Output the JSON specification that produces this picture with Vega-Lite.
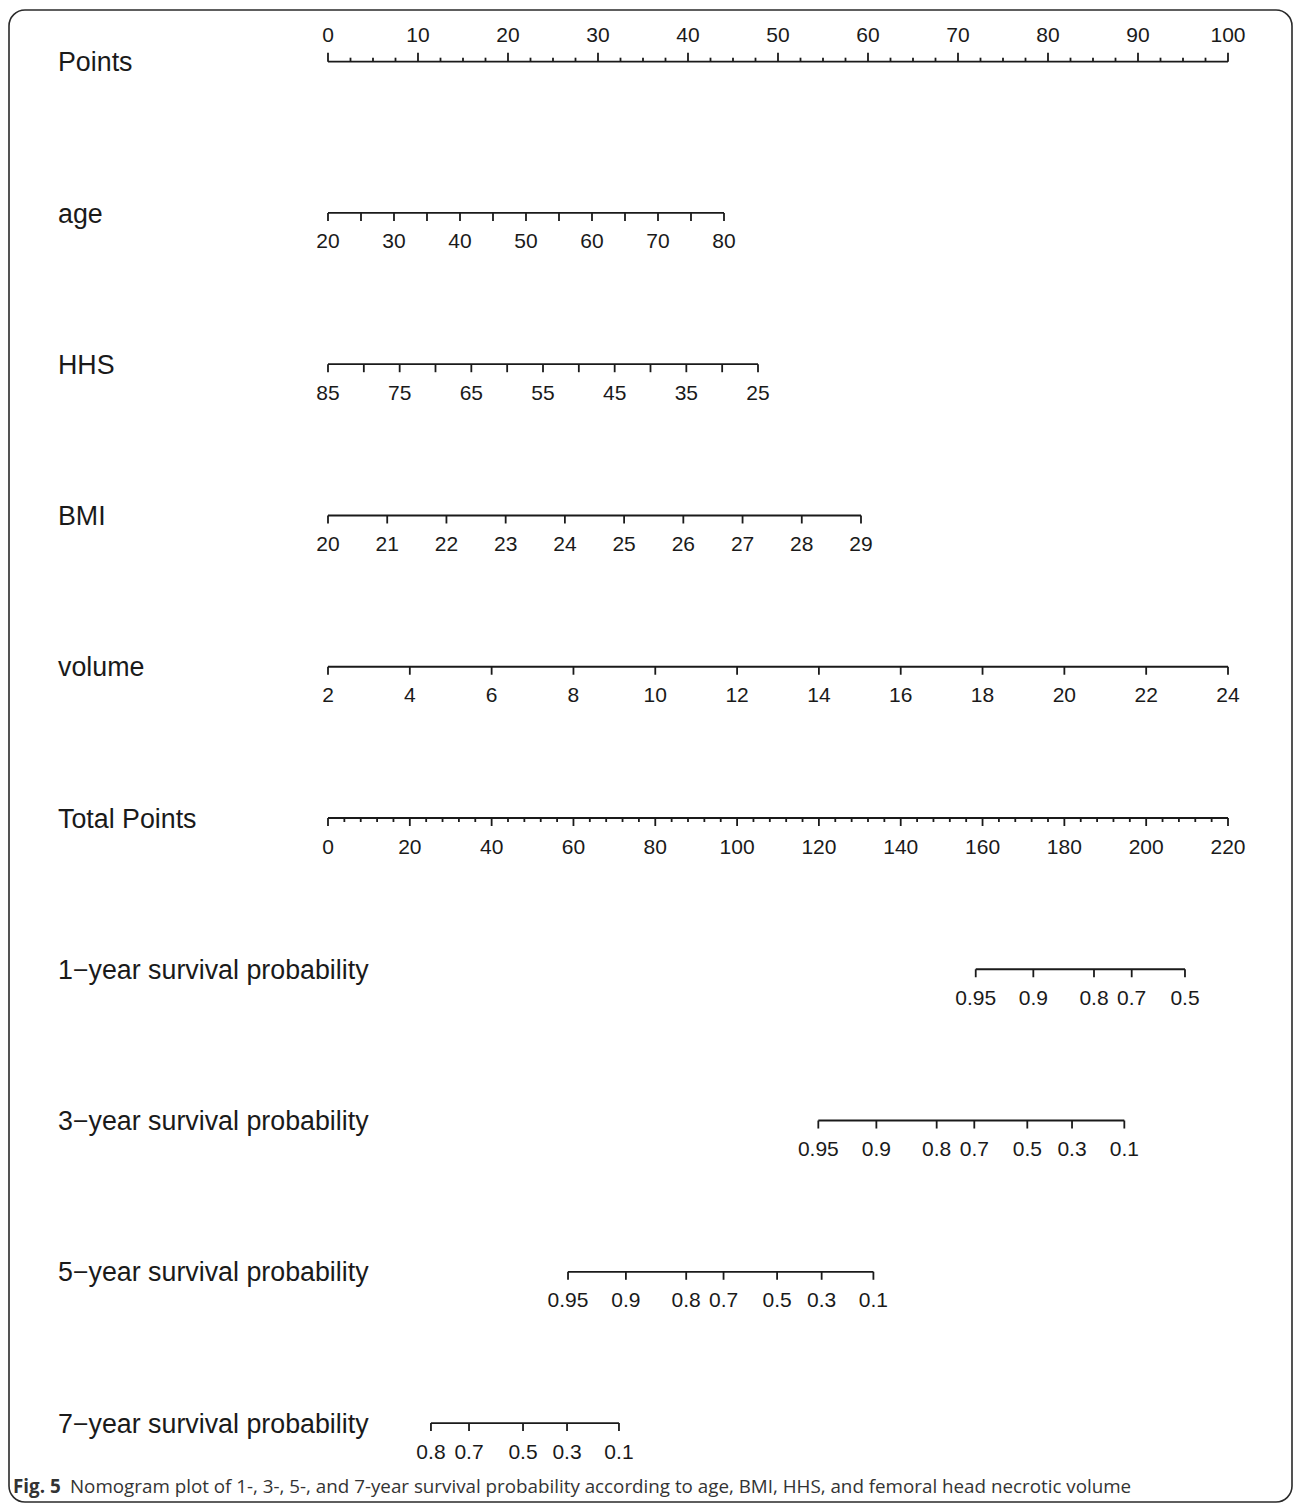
{
  "$schema": "https://vega.github.io/schema/vega-lite/v6.json",
  "width": 1295,
  "height": 1504,
  "autosize": {"type": "fit", "contains": "padding"},
  "padding": {"left": 9, "top": 10, "right": 3, "bottom": 2},
  "background": "white",
  "config": {
    "view": {"stroke": "#2a2a2a", "strokeWidth": 1.6, "cornerRadius": 16},
    "text": {"font": "Liberation Sans", "color": "#1a1a1a"}
  },
  "datasets": {
    "rows": [
      {"row": 0, "label": "Points", "start": 0, "end": 100},
      {"row": 1, "label": "age", "start": 0, "end": 44},
      {"row": 2, "label": "HHS", "start": 0, "end": 47.778},
      {"row": 3, "label": "BMI", "start": 0, "end": 59.222},
      {"row": 4, "label": "volume", "start": 0, "end": 100},
      {"row": 5, "label": "Total Points", "start": 0, "end": 100},
      {"row": 6, "label": "1−year survival probability", "start": 71.97, "end": 95.22},
      {"row": 7, "label": "3−year survival probability", "start": 54.48, "end": 88.48},
      {"row": 8, "label": "5−year survival probability", "start": 26.67, "end": 60.6},
      {"row": 9, "label": "7−year survival probability", "start": 11.44, "end": 32.33}
    ],
    "ticks": [
      {"row": 0, "pos": 0, "label": "0", "type": "long"},
      {"row": 0, "pos": 2.5, "label": "", "type": "short"},
      {"row": 0, "pos": 5, "label": "", "type": "short"},
      {"row": 0, "pos": 7.5, "label": "", "type": "short"},
      {"row": 0, "pos": 10, "label": "10", "type": "long"},
      {"row": 0, "pos": 12.5, "label": "", "type": "short"},
      {"row": 0, "pos": 15, "label": "", "type": "short"},
      {"row": 0, "pos": 17.5, "label": "", "type": "short"},
      {"row": 0, "pos": 20, "label": "20", "type": "long"},
      {"row": 0, "pos": 22.5, "label": "", "type": "short"},
      {"row": 0, "pos": 25, "label": "", "type": "short"},
      {"row": 0, "pos": 27.5, "label": "", "type": "short"},
      {"row": 0, "pos": 30, "label": "30", "type": "long"},
      {"row": 0, "pos": 32.5, "label": "", "type": "short"},
      {"row": 0, "pos": 35, "label": "", "type": "short"},
      {"row": 0, "pos": 37.5, "label": "", "type": "short"},
      {"row": 0, "pos": 40, "label": "40", "type": "long"},
      {"row": 0, "pos": 42.5, "label": "", "type": "short"},
      {"row": 0, "pos": 45, "label": "", "type": "short"},
      {"row": 0, "pos": 47.5, "label": "", "type": "short"},
      {"row": 0, "pos": 50, "label": "50", "type": "long"},
      {"row": 0, "pos": 52.5, "label": "", "type": "short"},
      {"row": 0, "pos": 55, "label": "", "type": "short"},
      {"row": 0, "pos": 57.5, "label": "", "type": "short"},
      {"row": 0, "pos": 60, "label": "60", "type": "long"},
      {"row": 0, "pos": 62.5, "label": "", "type": "short"},
      {"row": 0, "pos": 65, "label": "", "type": "short"},
      {"row": 0, "pos": 67.5, "label": "", "type": "short"},
      {"row": 0, "pos": 70, "label": "70", "type": "long"},
      {"row": 0, "pos": 72.5, "label": "", "type": "short"},
      {"row": 0, "pos": 75, "label": "", "type": "short"},
      {"row": 0, "pos": 77.5, "label": "", "type": "short"},
      {"row": 0, "pos": 80, "label": "80", "type": "long"},
      {"row": 0, "pos": 82.5, "label": "", "type": "short"},
      {"row": 0, "pos": 85, "label": "", "type": "short"},
      {"row": 0, "pos": 87.5, "label": "", "type": "short"},
      {"row": 0, "pos": 90, "label": "90", "type": "long"},
      {"row": 0, "pos": 92.5, "label": "", "type": "short"},
      {"row": 0, "pos": 95, "label": "", "type": "short"},
      {"row": 0, "pos": 97.5, "label": "", "type": "short"},
      {"row": 0, "pos": 100, "label": "100", "type": "long"},

      {"row": 1, "pos": 0, "label": "20", "type": "long"},
      {"row": 1, "pos": 3.667, "label": "", "type": "long"},
      {"row": 1, "pos": 7.333, "label": "30", "type": "long"},
      {"row": 1, "pos": 11, "label": "", "type": "long"},
      {"row": 1, "pos": 14.667, "label": "40", "type": "long"},
      {"row": 1, "pos": 18.333, "label": "", "type": "long"},
      {"row": 1, "pos": 22, "label": "50", "type": "long"},
      {"row": 1, "pos": 25.667, "label": "", "type": "long"},
      {"row": 1, "pos": 29.333, "label": "60", "type": "long"},
      {"row": 1, "pos": 33, "label": "", "type": "long"},
      {"row": 1, "pos": 36.667, "label": "70", "type": "long"},
      {"row": 1, "pos": 40.333, "label": "", "type": "long"},
      {"row": 1, "pos": 44, "label": "80", "type": "long"},

      {"row": 2, "pos": 0, "label": "85", "type": "long"},
      {"row": 2, "pos": 3.981, "label": "", "type": "long"},
      {"row": 2, "pos": 7.963, "label": "75", "type": "long"},
      {"row": 2, "pos": 11.944, "label": "", "type": "long"},
      {"row": 2, "pos": 15.926, "label": "65", "type": "long"},
      {"row": 2, "pos": 19.907, "label": "", "type": "long"},
      {"row": 2, "pos": 23.889, "label": "55", "type": "long"},
      {"row": 2, "pos": 27.87, "label": "", "type": "long"},
      {"row": 2, "pos": 31.852, "label": "45", "type": "long"},
      {"row": 2, "pos": 35.833, "label": "", "type": "long"},
      {"row": 2, "pos": 39.815, "label": "35", "type": "long"},
      {"row": 2, "pos": 43.796, "label": "", "type": "long"},
      {"row": 2, "pos": 47.778, "label": "25", "type": "long"},

      {"row": 3, "pos": 0, "label": "20", "type": "long"},
      {"row": 3, "pos": 6.58, "label": "21", "type": "long"},
      {"row": 3, "pos": 13.16, "label": "22", "type": "long"},
      {"row": 3, "pos": 19.741, "label": "23", "type": "long"},
      {"row": 3, "pos": 26.321, "label": "24", "type": "long"},
      {"row": 3, "pos": 32.901, "label": "25", "type": "long"},
      {"row": 3, "pos": 39.481, "label": "26", "type": "long"},
      {"row": 3, "pos": 46.062, "label": "27", "type": "long"},
      {"row": 3, "pos": 52.642, "label": "28", "type": "long"},
      {"row": 3, "pos": 59.222, "label": "29", "type": "long"},

      {"row": 4, "pos": 0, "label": "2", "type": "long"},
      {"row": 4, "pos": 9.091, "label": "4", "type": "long"},
      {"row": 4, "pos": 18.182, "label": "6", "type": "long"},
      {"row": 4, "pos": 27.273, "label": "8", "type": "long"},
      {"row": 4, "pos": 36.364, "label": "10", "type": "long"},
      {"row": 4, "pos": 45.455, "label": "12", "type": "long"},
      {"row": 4, "pos": 54.545, "label": "14", "type": "long"},
      {"row": 4, "pos": 63.636, "label": "16", "type": "long"},
      {"row": 4, "pos": 72.727, "label": "18", "type": "long"},
      {"row": 4, "pos": 81.818, "label": "20", "type": "long"},
      {"row": 4, "pos": 90.909, "label": "22", "type": "long"},
      {"row": 4, "pos": 100, "label": "24", "type": "long"},

      {"row": 5, "pos": 0, "label": "0", "type": "long"},
      {"row": 5, "pos": 9.091, "label": "20", "type": "long"},
      {"row": 5, "pos": 18.182, "label": "40", "type": "long"},
      {"row": 5, "pos": 27.273, "label": "60", "type": "long"},
      {"row": 5, "pos": 36.364, "label": "80", "type": "long"},
      {"row": 5, "pos": 45.455, "label": "100", "type": "long"},
      {"row": 5, "pos": 54.545, "label": "120", "type": "long"},
      {"row": 5, "pos": 63.636, "label": "140", "type": "long"},
      {"row": 5, "pos": 72.727, "label": "160", "type": "long"},
      {"row": 5, "pos": 81.818, "label": "180", "type": "long"},
      {"row": 5, "pos": 90.909, "label": "200", "type": "long"},
      {"row": 5, "pos": 100, "label": "220", "type": "long"},
      {"row": 5, "pos": 1.818, "label": "", "type": "short"},
      {"row": 5, "pos": 3.636, "label": "", "type": "short"},
      {"row": 5, "pos": 5.455, "label": "", "type": "short"},
      {"row": 5, "pos": 7.273, "label": "", "type": "short"},
      {"row": 5, "pos": 10.909, "label": "", "type": "short"},
      {"row": 5, "pos": 12.727, "label": "", "type": "short"},
      {"row": 5, "pos": 14.545, "label": "", "type": "short"},
      {"row": 5, "pos": 16.364, "label": "", "type": "short"},
      {"row": 5, "pos": 20, "label": "", "type": "short"},
      {"row": 5, "pos": 21.818, "label": "", "type": "short"},
      {"row": 5, "pos": 23.636, "label": "", "type": "short"},
      {"row": 5, "pos": 25.455, "label": "", "type": "short"},
      {"row": 5, "pos": 29.091, "label": "", "type": "short"},
      {"row": 5, "pos": 30.909, "label": "", "type": "short"},
      {"row": 5, "pos": 32.727, "label": "", "type": "short"},
      {"row": 5, "pos": 34.545, "label": "", "type": "short"},
      {"row": 5, "pos": 38.182, "label": "", "type": "short"},
      {"row": 5, "pos": 40, "label": "", "type": "short"},
      {"row": 5, "pos": 41.818, "label": "", "type": "short"},
      {"row": 5, "pos": 43.636, "label": "", "type": "short"},
      {"row": 5, "pos": 47.273, "label": "", "type": "short"},
      {"row": 5, "pos": 49.091, "label": "", "type": "short"},
      {"row": 5, "pos": 50.909, "label": "", "type": "short"},
      {"row": 5, "pos": 52.727, "label": "", "type": "short"},
      {"row": 5, "pos": 56.364, "label": "", "type": "short"},
      {"row": 5, "pos": 58.182, "label": "", "type": "short"},
      {"row": 5, "pos": 60, "label": "", "type": "short"},
      {"row": 5, "pos": 61.818, "label": "", "type": "short"},
      {"row": 5, "pos": 65.455, "label": "", "type": "short"},
      {"row": 5, "pos": 67.273, "label": "", "type": "short"},
      {"row": 5, "pos": 69.091, "label": "", "type": "short"},
      {"row": 5, "pos": 70.909, "label": "", "type": "short"},
      {"row": 5, "pos": 74.545, "label": "", "type": "short"},
      {"row": 5, "pos": 76.364, "label": "", "type": "short"},
      {"row": 5, "pos": 78.182, "label": "", "type": "short"},
      {"row": 5, "pos": 80, "label": "", "type": "short"},
      {"row": 5, "pos": 83.636, "label": "", "type": "short"},
      {"row": 5, "pos": 85.455, "label": "", "type": "short"},
      {"row": 5, "pos": 87.273, "label": "", "type": "short"},
      {"row": 5, "pos": 89.091, "label": "", "type": "short"},
      {"row": 5, "pos": 92.727, "label": "", "type": "short"},
      {"row": 5, "pos": 94.545, "label": "", "type": "short"},
      {"row": 5, "pos": 96.364, "label": "", "type": "short"},
      {"row": 5, "pos": 98.182, "label": "", "type": "short"},

      {"row": 6, "pos": 71.97, "label": "0.95", "type": "long"},
      {"row": 6, "pos": 78.37, "label": "0.9", "type": "long"},
      {"row": 6, "pos": 85.11, "label": "0.8", "type": "long"},
      {"row": 6, "pos": 89.3, "label": "0.7", "type": "long"},
      {"row": 6, "pos": 95.22, "label": "0.5", "type": "long"},

      {"row": 7, "pos": 54.48, "label": "0.95", "type": "long"},
      {"row": 7, "pos": 60.93, "label": "0.9", "type": "long"},
      {"row": 7, "pos": 67.63, "label": "0.8", "type": "long"},
      {"row": 7, "pos": 71.81, "label": "0.7", "type": "long"},
      {"row": 7, "pos": 77.7, "label": "0.5", "type": "long"},
      {"row": 7, "pos": 82.67, "label": "0.3", "type": "long"},
      {"row": 7, "pos": 88.48, "label": "0.1", "type": "long"},

      {"row": 8, "pos": 26.67, "label": "0.95", "type": "long"},
      {"row": 8, "pos": 33.1, "label": "0.9", "type": "long"},
      {"row": 8, "pos": 39.8, "label": "0.8", "type": "long"},
      {"row": 8, "pos": 43.95, "label": "0.7", "type": "long"},
      {"row": 8, "pos": 49.9, "label": "0.5", "type": "long"},
      {"row": 8, "pos": 54.85, "label": "0.3", "type": "long"},
      {"row": 8, "pos": 60.6, "label": "0.1", "type": "long"},

      {"row": 9, "pos": 11.44, "label": "0.8", "type": "long"},
      {"row": 9, "pos": 15.67, "label": "0.7", "type": "long"},
      {"row": 9, "pos": 21.67, "label": "0.5", "type": "long"},
      {"row": 9, "pos": 26.56, "label": "0.3", "type": "long"},
      {"row": 9, "pos": 32.33, "label": "0.1", "type": "long"}
    ],
    "caption": [
      {"bold": "Fig. 5", "text": "Nomogram plot of 1-, 3-, 5-, and 7-year survival probability according to age, BMI, HHS, and femoral head necrotic volume"}
    ]
  },
  "layer": [
    {
      "data": {"name": "rows"},
      "mark": {"type": "rule", "stroke": "#1a1a1a", "strokeWidth": 1.8},
      "encoding": {
        "x": {"field": "start", "type": "quantitative", "axis": null, "scale": {"domain": [-35.444, 107.111], "zero": false, "nice": false}},
        "x2": {"field": "end"},
        "y": {"field": "row", "type": "quantitative", "axis": null, "scale": {"domain": [-0.3418, 9.522], "reverse": true, "zero": false, "nice": false}}
      }
    },
    {
      "data": {"name": "ticks"},
      "transform": [{"filter": "datum.row == 0 && datum.type == 'long'"}],
      "mark": {"type": "rule", "stroke": "#1a1a1a", "strokeWidth": 1.8, "y2Offset": -9},
      "encoding": {
        "x": {"field": "pos", "type": "quantitative"},
        "y": {"field": "row", "type": "quantitative"},
        "y2": {"field": "row"}
      }
    },
    {
      "data": {"name": "ticks"},
      "transform": [{"filter": "datum.row == 0 && datum.type == 'short'"}],
      "mark": {"type": "rule", "stroke": "#1a1a1a", "strokeWidth": 1.8, "y2Offset": -4},
      "encoding": {
        "x": {"field": "pos", "type": "quantitative"},
        "y": {"field": "row", "type": "quantitative"},
        "y2": {"field": "row"}
      }
    },
    {
      "data": {"name": "ticks"},
      "transform": [{"filter": "datum.row > 0 && datum.type == 'long'"}],
      "mark": {"type": "rule", "stroke": "#1a1a1a", "strokeWidth": 1.8, "y2Offset": 8},
      "encoding": {
        "x": {"field": "pos", "type": "quantitative"},
        "y": {"field": "row", "type": "quantitative"},
        "y2": {"field": "row"}
      }
    },
    {
      "data": {"name": "ticks"},
      "transform": [{"filter": "datum.row > 0 && datum.type == 'short'"}],
      "mark": {"type": "rule", "stroke": "#1a1a1a", "strokeWidth": 1.8, "y2Offset": 4},
      "encoding": {
        "x": {"field": "pos", "type": "quantitative"},
        "y": {"field": "row", "type": "quantitative"},
        "y2": {"field": "row"}
      }
    },
    {
      "data": {"name": "ticks"},
      "transform": [{"filter": "datum.row == 0 && datum.label != ''"}],
      "mark": {"type": "text", "fontSize": 21, "baseline": "middle", "align": "center", "dy": -26},
      "encoding": {
        "x": {"field": "pos", "type": "quantitative"},
        "y": {"field": "row", "type": "quantitative"},
        "text": {"field": "label"}
      }
    },
    {
      "data": {"name": "ticks"},
      "transform": [{"filter": "datum.row > 0 && datum.label != ''"}],
      "mark": {"type": "text", "fontSize": 21, "baseline": "middle", "align": "center", "dy": 29.5},
      "encoding": {
        "x": {"field": "pos", "type": "quantitative"},
        "y": {"field": "row", "type": "quantitative"},
        "text": {"field": "label"}
      }
    },
    {
      "data": {"name": "rows"},
      "mark": {"type": "text", "fontSize": 26.8, "baseline": "alphabetic", "align": "left", "dy": 9.6},
      "encoding": {
        "x": {"datum": -30},
        "y": {"field": "row", "type": "quantitative"},
        "text": {"field": "label"}
      }
    },
    {
      "data": {"name": "caption"},
      "mark": {"type": "text", "font": "Open Sans", "fontWeight": "bold", "fontSize": 18.8, "baseline": "middle", "align": "left", "color": "#333333"},
      "encoding": {
        "x": {"datum": -35},
        "y": {"datum": 9.425},
        "text": {"field": "bold"}
      }
    },
    {
      "data": {"name": "caption"},
      "mark": {"type": "text", "font": "Open Sans", "fontSize": 18.8, "baseline": "middle", "align": "left", "color": "#333333"},
      "encoding": {
        "x": {"datum": -28.67},
        "y": {"datum": 9.425},
        "text": {"field": "text"}
      }
    }
  ]
}
